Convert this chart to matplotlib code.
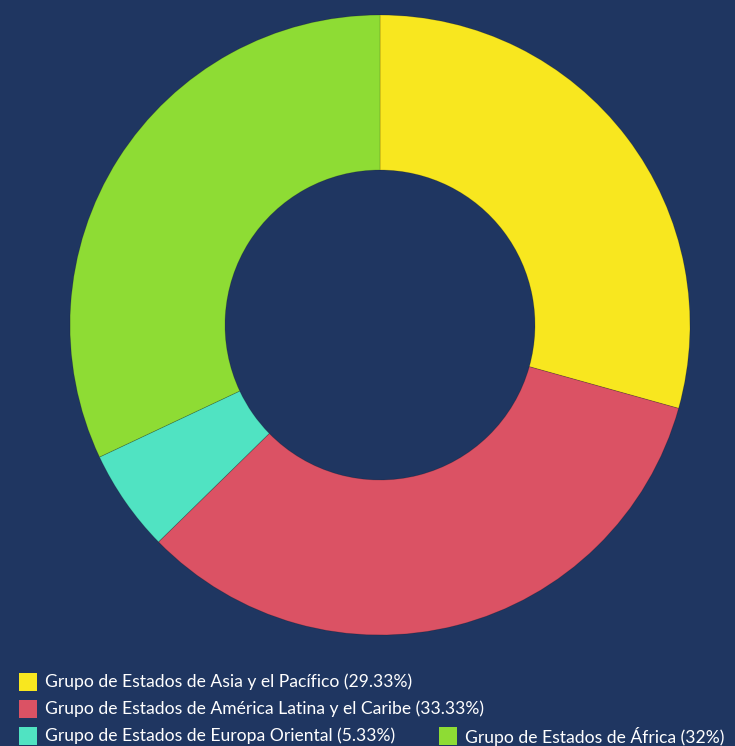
import matplotlib.pyplot as plt
from matplotlib.patches import Rectangle

labels = ['Grupo de Estados de Asia y el Pacífico',
          'Grupo de Estados de América Latina y el Caribe',
          'Grupo de Estados de Europa Oriental',
          'Grupo de Estados de África']
values = [29.33, 33.33, 5.33, 32]
pct_text = ['29.33%', '33.33%', '5.33%', '32%']
colors = ['#f8e71f', '#db5264', '#50e3c2', '#8edc34']

bg = '#1f3661'
W, H = 735, 746

plt.rcParams['font.family'] = ['Lato', 'DejaVu Sans']

fig = plt.figure(figsize=(W / 100, H / 100), dpi=100, facecolor=bg)
# pie centre (380, 325) px, radius 310 px
cx, cy, r = 380, 325, 310
ax = fig.add_axes([(cx - r) / W, (H - cy - r) / H, 2 * r / W, 2 * r / H])
ax.set_facecolor(bg)
ax.pie(values, colors=colors, startangle=90, counterclock=False, radius=1,
       wedgeprops=dict(width=0.5, edgecolor='#00000030', linewidth=0.6))
ax.set_xlim(-1, 1)
ax.set_ylim(-1, 1)
ax.axis('off')

# legend laid out like the original (flowing rows)
pos = [(19, 682), (19, 709), (19, 736), (439, 736)]
for (px, py), lab, pc, col in zip(pos, labels, pct_text, colors):
    fig.patches.append(Rectangle((px / W, (H - py - 9) / H), 18 / W, 18 / H,
                                 transform=fig.transFigure, facecolor=col,
                                 edgecolor='none'))
    fig.text((px + 26) / W, (H - py) / H, f'{lab} ({pc})', color='white',
             fontsize=12.6, va='center', ha='left')

fig.savefig('out.png', dpi=100, facecolor=bg)
